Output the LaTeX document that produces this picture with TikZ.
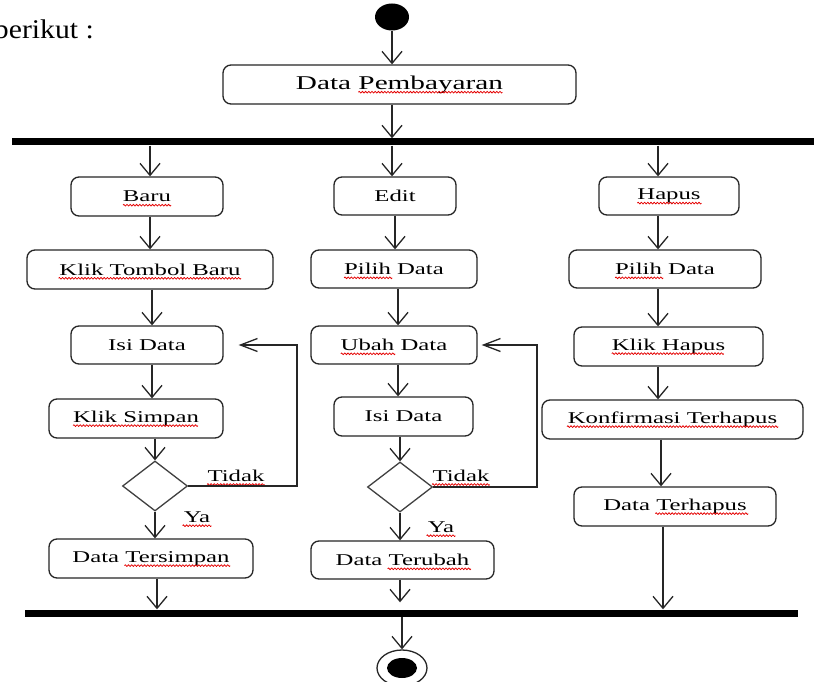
\documentclass[tikz,border=0pt]{standalone}
\usepackage{fontspec}
\setmainfont{Liberation Serif}
\newfontfamily\widefont[FakeStretch=1.5]{Liberation Serif}
\newfontfamily\docfont[FakeStretch=1.1]{Liberation Serif}
\usetikzlibrary{arrows.meta,shapes.geometric,calc}
\newcommand\actfontx{\widefont\fontsize{16.5}{18}\selectfont}
\newcommand\headfontx{\widefont\fontsize{19.5}{22}\selectfont}
% wavy spell-check underline: start x #1, #2 waves, height #3
\newcommand\wavyline[3]{%
  \draw[squig] (#1,#3) \foreach \i in {1,...,#2} {
     sin ++(0.8,-0.9) cos ++(0.8,0.9) sin ++(0.8,0.9) cos ++(0.8,-0.9)};}
\tikzset{
  act/.style={draw=black!85, line width=1.3pt, rounded corners=8pt, inner sep=0pt,
    font=\actfontx},
  dec/.style={diamond, draw=black!75, line width=1.3pt, inner sep=0pt,
    minimum width=65pt, minimum height=50pt},
  flow/.style={draw=black!85, line width=1.4pt,
    -{Straight Barb[length=12pt,width=20pt,line width=1.3pt]}},
  flowh/.style={draw=black!85, line width=1.4pt,
    -{Straight Barb[length=17pt,width=13pt,line width=1.3pt]}},
  syncbar/.style={fill=black, inner sep=0pt, minimum height=7pt},
  lbl/.style={inner sep=0pt, font=\actfontx},
  squig/.style={draw=red!90!black, line width=0.75pt, line join=round},
}
\begin{document}
\begin{tikzpicture}[x=1pt,y=-1pt]
\useasboundingbox (0,0) rectangle (814,682);
\fill[white] (0,0) rectangle (814,682);

\node[anchor=base east, inner sep=0pt, font=\docfont\fontsize{27}{30}\selectfont] (intro) at (94,39) {berikut :};

% start
\node[ellipse, fill=black, minimum width=34pt, minimum height=27pt, inner sep=0pt] (start) at (392,17) {};
\node[act, minimum width=353pt, minimum height=39pt, font=\headfontx] (dp) at (399.5,84.5) {Data Pembayaran};
\node[syncbar, minimum width=802pt] (fork) at (413,142) {};

% column x positions
\coordinate (m1) at (392,0);
\coordinate (l1) at (150,0);
\coordinate (l2) at (152,0);
\coordinate (l3) at (157,0);
\coordinate (m2) at (395,0);
\coordinate (m3) at (398,0);
\coordinate (m4) at (400,0);
\coordinate (r1) at (658,0);
\coordinate (r2) at (661,0);
\coordinate (r3) at (663,0);
\coordinate (lp1) at (297,0);
\coordinate (lp2) at (537,0);

% left column
\node[act, minimum width=152pt, minimum height=39pt] (baru) at (147,196.5) {Baru};
\node[act, minimum width=246pt, minimum height=39pt] (klikbaru) at (150,269.5) {Klik Tombol Baru};
\node[act, minimum width=152pt, minimum height=38pt] (isi1) at (147,345) {Isi Data};
\node[act, minimum width=174pt, minimum height=39pt] (simpan) at (136,418.5) {Klik Simpan};
\node[dec] (dec1) at (155,486) {};
\node[act, minimum width=204pt, minimum height=39pt] (tersimpan) at (151,558.5) {Data Tersimpan};

% middle column
\node[act, minimum width=122pt, minimum height=38pt] (edit) at (395,196) {Edit};
\node[act, minimum width=166pt, minimum height=38pt] (pilih2) at (394,269) {Pilih Data};
\node[act, minimum width=166pt, minimum height=38pt] (ubah) at (394,345) {Ubah Data};
\node[act, minimum width=139pt, minimum height=39pt] (isi2) at (403.5,416.5) {Isi Data};
\node[dec] (dec2) at (400,487) {};
\node[act, minimum width=183pt, minimum height=38pt] (terubah) at (402.5,560) {Data Terubah};

% right column
\node[act, minimum width=140pt, minimum height=38pt] (hapus) at (669,196) {Hapus};
\node[act, minimum width=192pt, minimum height=38pt] (pilih3) at (665,269) {Pilih Data};
\node[act, minimum width=189pt, minimum height=39pt] (klikhapus) at (668.5,346.5) {Klik Hapus};
\node[act, minimum width=261pt, minimum height=39pt] (konf) at (672.5,419.5) {Konfirmasi Terhapus};
\node[act, minimum width=202pt, minimum height=39pt] (terhapus) at (675,506.5) {Data Terhapus};

% join and end
\node[syncbar, minimum width=773pt] (join) at (411.5,613) {};
\node[ellipse, draw=black!85, line width=1.3pt, minimum width=50pt, minimum height=36pt, inner sep=0pt] (endc) at (402,668) {};
\node[ellipse, fill=black, minimum width=30pt, minimum height=20pt, inner sep=0pt] (endin) at (endc.center) {};

% labels
\node[lbl] (t1) at (236,476) {Tidak};
\node[lbl] (y1) at (197,517) {Ya};
\node[lbl] (t2) at (461,476) {Tidak};
\node[lbl] (y2) at (441,527) {Ya};

% spell-check squiggles
\wavyline{358.4}{45}{92.2}
\wavyline{123}{15}{205.2}
\wavyline{58.6}{57}{278.3}
\wavyline{73.1}{39}{425.6}
\wavyline{124.5}{33}{565.6}
\wavyline{344.2}{15}{277.8}
\wavyline{340.8}{17}{353.8}
\wavyline{387.7}{26}{568.8}
\wavyline{637.4}{20}{203.1}
\wavyline{615.2}{15}{277.8}
\wavyline{611.8}{35}{353.6}
\wavyline{567}{66}{426.6}
\wavyline{655.4}{29}{513.6}
\wavyline{207.1}{18}{484.5}
\wavyline{182.6}{9}{525.7}
\wavyline{432.1}{18}{484.5}
\wavyline{426.6}{9}{535.7}

% connectors
\draw[flow] (start.south) -- (dp.north -| start.south);
\draw[flow] (dp.south -| m1) -- (fork.north -| m1);
\draw[flow] (fork.south -| l1) -- (baru.north -| l1);
\draw[flow] (fork.south -| m1) -- (edit.north -| m1);
\draw[flow] (fork.south -| r1) -- (hapus.north -| r1);

\draw[flow] (baru.south -| l1) -- (klikbaru.north -| l1);
\draw[flow] (klikbaru.south -| l2) -- (isi1.north -| l2);
\draw[flow] (isi1.south -| l2) -- (simpan.north -| l2);
\draw[flow] (simpan.south -| dec1.north) -- (dec1.north);
\draw[flow] (dec1.south) -- (tersimpan.north -| dec1.south);
\draw[flow] (tersimpan.south -| l3) -- (join.north -| l3);
\draw[flowh, shorten >=15pt] (dec1.east) -| (lp1 |- isi1.east) -- (isi1.east);

\draw[flow] (edit.south -| m2) -- (pilih2.north -| m2);
\draw[flow] (pilih2.south -| m3) -- (ubah.north -| m3);
\draw[flow] (ubah.south -| m3) -- (isi2.north -| m3);
\draw[flow] (isi2.south -| dec2.north) -- (dec2.north);
\draw[flow] (dec2.south) -- (terubah.north -| dec2.south);
\draw[flow, shorten >=7pt] (terubah.south -| m4) -- (join.north -| m4);
\draw[flowh, shorten >=4pt] (dec2.east) -| (lp2 |- ubah.east) -- (ubah.east);

\draw[flow] (hapus.south -| r1) -- (pilih3.north -| r1);
\draw[flow] (pilih3.south -| r1) -- (klikhapus.north -| r1);
\draw[flow] (klikhapus.south -| r1) -- (konf.north -| r1);
\draw[flow] (konf.south -| r2) -- (terhapus.north -| r2);
\draw[flow] (terhapus.south -| r3) -- (join.north -| r3);

\draw[flow] (join.south -| endc.north) -- (endc.north);
\end{tikzpicture}
\end{document}
